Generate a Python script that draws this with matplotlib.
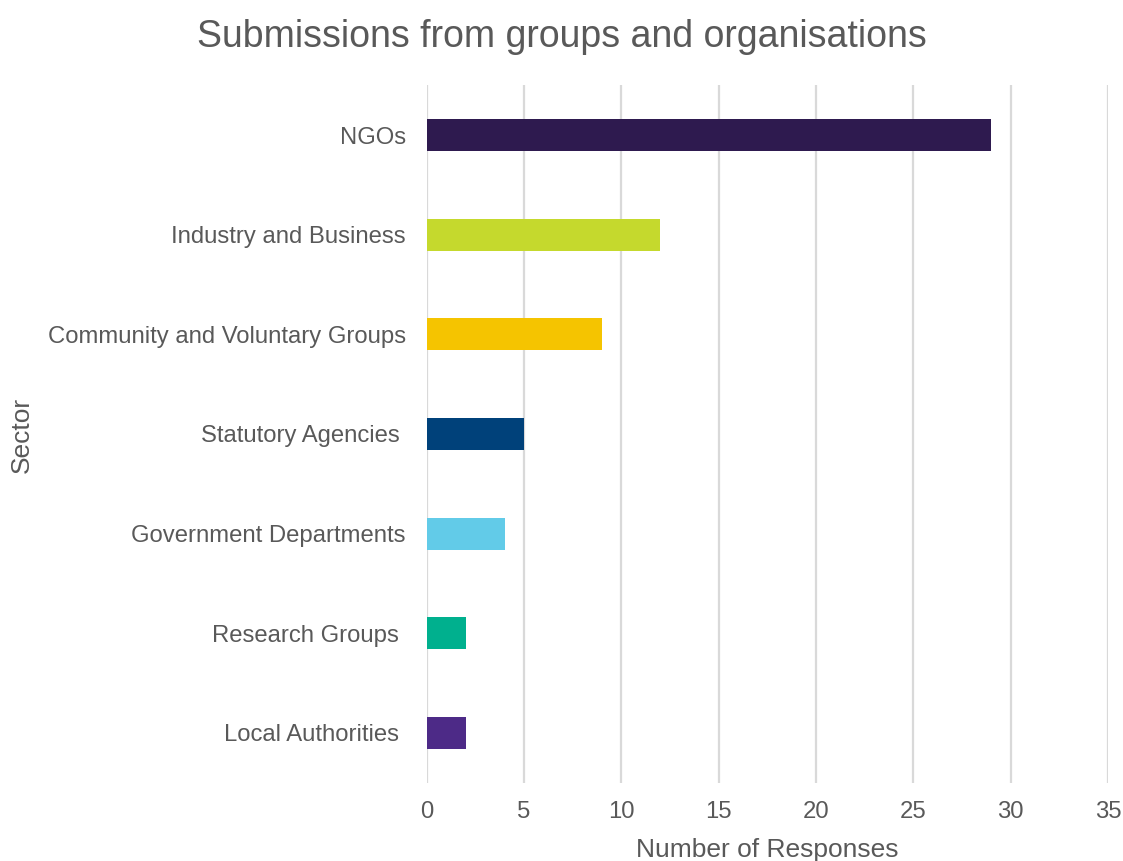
import matplotlib.pyplot as plt

plt.rcParams['font.family'] = ['Liberation Sans', 'DejaVu Sans']

# sectors listed top to bottom
sectors = ["NGOs", "Industry and Business", "Community and Voluntary Groups",
           "Statutory Agencies ", "Government Departments", "Research Groups ",
           "Local Authorities "]
responses = [29, 12, 9, 5, 4, 2, 2]
colours = ["#2E1A4F", "#C5D92D", "#F5C400", "#00417A", "#62CBE8", "#00B08E", "#4D2A87"]
xticks = [0, 5, 10, 15, 20, 25, 30, 35]

grey = "#595959"

fig = plt.figure(figsize=(11.23, 8.61), dpi=100)
ax = fig.add_axes([0.380, 0.091, 0.6066, 0.810])

ypos = list(range(len(sectors)))[::-1]
ax.barh(ypos, responses, height=0.32, color=colours, zorder=3)

ax.set_xlim(0, 35)
ax.set_ylim(-0.5, len(sectors) - 0.5)
ax.set_xticks(xticks)
ax.set_yticks(ypos)
ax.set_yticklabels(sectors)
ax.xaxis.grid(True, color="#D9D9D9", linewidth=1.6, zorder=0)
ax.yaxis.grid(False)
for s in ax.spines.values():
    s.set_visible(False)
ax.tick_params(axis="both", length=0, colors=grey, labelsize=17.2)
ax.tick_params(axis="x", pad=13.5)
ax.tick_params(axis="y", pad=15)

# axis titles and chart title placed in figure coordinates
fig.text(0.683, 1 - 857 / 861, "Number of Responses", color=grey,
         fontsize=19, ha="center", va="baseline")
fig.text(0.0196, 0.495, "Sector", color=grey, fontsize=19,
         rotation=90, ha="center", va="center")
fig.text(0.50, 1 - 47 / 861, "Submissions from groups and organisations", color=grey,
         fontsize=27, ha="center", va="baseline")

plt.savefig("out.png", dpi=100)
